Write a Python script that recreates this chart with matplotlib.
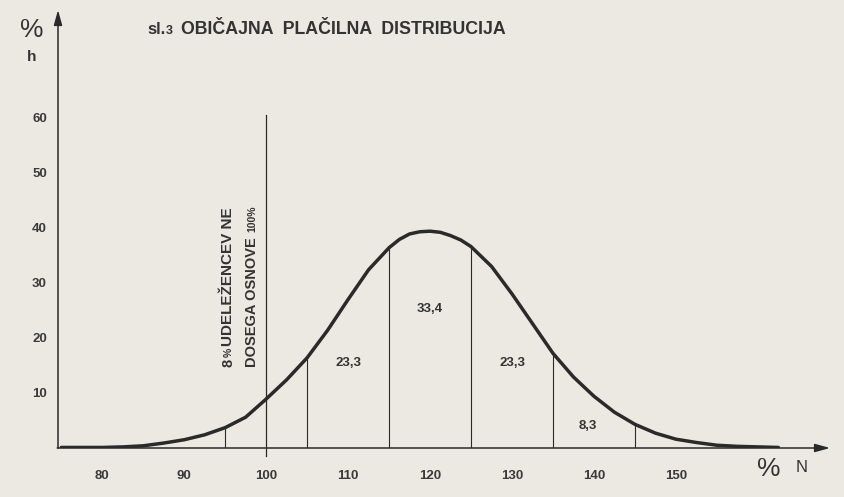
import matplotlib
matplotlib.use("Agg")
from matplotlib import pyplot as plt

# curve, % N vs. % h
n_pct = [75, 77.5, 80, 82.5, 85, 87.5, 90, 92.5, 95, 97.5, 100, 102.5, 105,
         107.5, 110, 112.5, 115, 116.25, 117.5, 118.75, 120, 121.25, 122.5,
         123.75, 125, 127.5, 130, 132.5, 135, 137.5, 140, 142.5, 145, 147.5,
         150, 152.5, 155, 157.5, 160, 162.5]
h_pct = [0.1, 0.1, 0.1, 0.2, 0.4, 0.9, 1.5, 2.4, 3.7, 5.6, 8.9, 12.4, 16.4,
         21.4, 27.0, 32.4, 36.4, 37.9, 38.9, 39.3, 39.4, 39.2, 38.6,
         37.8, 36.6, 33.0, 28.0, 22.6, 17.2, 12.9, 9.4, 6.5, 4.3, 2.7,
         1.6, 1.0, 0.5, 0.3, 0.2, 0.1]

dividers = [95, 105, 115, 125, 135, 145]
base_line = 100
band_x = [110, 120, 130, 139.3]
band_y = [15.5, 25.3, 15.5, 4.0]
band_labels = ["23,3", "33,4", "23,3", "8,3"]

x_ticks = [80, 90, 100, 110, 120, 130, 140, 150]
y_ticks = [10, 20, 30, 40, 50, 60]

font = "Liberation Sans"
paper = "#ebe9e2"
ink = "#2a2a2a"
txt = "#333333"

fig = plt.figure(figsize=(8.44, 4.97), dpi=100, facecolor=paper)
ax = fig.add_axes([58 / 844, 49 / 497, (830 - 58) / 844, (448 - 10) / 497])
ax.set_facecolor(paper)
ax.set_xlim(74.6, 168.8)
ax.set_ylim(0, 79.6)
for s in ax.spines.values():
    s.set_visible(False)

# axes with arrows
ax.annotate("", xy=(168.8, 0), xytext=(74.5, 0),
            arrowprops=dict(arrowstyle="-|>,head_length=0.9,head_width=0.25",
                            color=ink, lw=1.1, shrinkA=0, shrinkB=0),
            annotation_clip=False)
ax.annotate("", xy=(74.6, 79.6), xytext=(74.6, 0),
            arrowprops=dict(arrowstyle="-|>,head_length=0.9,head_width=0.25",
                            color=ink, lw=1.1, shrinkA=0, shrinkB=0),
            annotation_clip=False)

ax.set_xticks(x_ticks)
ax.set_yticks(y_ticks)
ax.tick_params(length=0, colors=ink)
ax.tick_params(axis="x", pad=16)
ax.tick_params(axis="y", pad=8)
for lab in ax.get_xticklabels() + ax.get_yticklabels():
    lab.set_fontfamily(font)
    lab.set_fontweight("bold")
    lab.set_fontsize(9.5)
    lab.set_color("#3a3a3a")

ax.plot(n_pct, h_pct, color=ink, lw=2.5, solid_capstyle="round",
        solid_joinstyle="round")

for d in dividers:
    top = h_pct[n_pct.index(d)]
    ax.plot([d, d], [0, top], color=ink, lw=0.8)
ax.plot([base_line, base_line], [-1.5, 60.5], color=ink, lw=0.9, clip_on=False)

for bx, by, bl in zip(band_x, band_y, band_labels):
    ax.text(bx, by, bl, ha="center", va="center", fontsize=9.5,
            fontfamily=font, fontweight="bold", color=txt)

# rotated note left of the 100 % line
note = dict(rotation=90, ha="center", va="bottom", fontfamily=font,
            fontweight="bold", color=txt)
ax.text(95.4, 14.7, "8", fontsize=10.5, **note)
ax.text(95.4, 16.5, "%", fontsize=7.5, **note)
ax.text(95.4, 18.5, "UDELEŽENCEV NE", fontsize=11, **note)
ax.text(98.3, 14.7, "DOSEGA OSNOVE", fontsize=10.5, **note)
ax.text(98.3, 39.2, "100%", fontsize=7.5, **note)

# titles and axis names
fig.text(147 / 844, 1 - 30 / 497, "sl.", fontsize=12, fontfamily=font,
         fontweight="bold", color=txt, va="center")
fig.text(166 / 844, 1 - 31 / 497, "3", fontsize=9, fontfamily=font,
         fontweight="bold", color=txt, va="center")
fig.text(181 / 844, 1 - 30 / 497, "OBIČAJNA  PLAČILNA  DISTRIBUCIJA",
         fontsize=12.8, fontfamily=font, fontweight="bold", color=txt,
         va="center")
fig.text(32 / 844, 1 - 30 / 497, "%", fontsize=19, fontfamily=font,
         color=txt, ha="center", va="center")
fig.text(32 / 844, 1 - 57 / 497, "h", fontsize=11, fontfamily=font,
         fontweight="bold", color=txt, ha="center", va="center")
fig.text(769 / 844, 1 - 469 / 497, "%", fontsize=19, fontfamily=font,
         color=txt, ha="center", va="center")
fig.text(802 / 844, 1 - 468 / 497, "N", fontsize=12, fontfamily=font,
         color=txt, ha="center", va="center")

fig.savefig("out.png", dpi=100, facecolor=paper)
